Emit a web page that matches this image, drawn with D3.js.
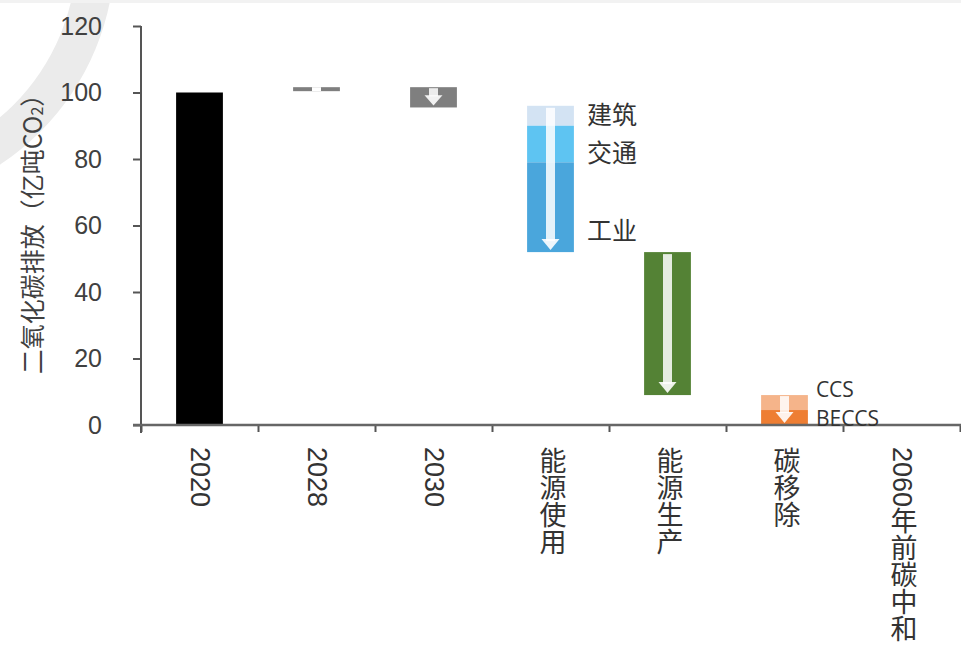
<!DOCTYPE html>
<html>
<head>
<meta charset="utf-8">
<script src="https://cdn.jsdelivr.net/npm/d3@7"></script>
<style>
  html, body { margin: 0; padding: 0; background: #fff; }
  svg { display: block; }
</style>
</head>
<body>
<script>
// Waterfall of China's CO2 emissions path to 2060 carbon neutrality (亿吨CO2)
const categories = ["2020", "2028", "2030", "能源使用", "能源生产", "碳移除", "2060年前碳中和"];

// Floating segments: each runs from segFrom to segTo within its category
const segCategory = ["2020", "2028", "2030", "能源使用", "能源使用", "能源使用", "能源生产", "碳移除", "碳移除"];
const segName     = ["2020", "2028", "2030", "建筑", "交通", "工业", "能源生产", "CCS", "BECCS"];
const segFrom     = [0, 100.4, 101.6, 96, 90, 79, 52, 9, 4.5];
const segTo       = [100, 101.6, 95.5, 90, 79, 52, 9, 4.5, 0];

const yTicks = [0, 20, 40, 60, 80, 100, 120];
const yTitle = "二氧化碳排放（亿吨CO";

// Segments that carry a side label
const sideLabels = ["建筑", "交通", "工业", "CCS", "BECCS"];

const W = 961, H = 647;
const segColor = {
  "2020": "#000000", "2028": "#7f7f7f", "2030": "#7f7f7f",
  "建筑": "#d3e3f3", "交通": "#5ec4f2", "工业": "#4aa6dc",
  "能源生产": "#548235", "CCS": "#f5b48a", "BECCS": "#ee7e33"
};
// value at which each side label is centred
const labelAnchor = { "建筑": 93.8, "交通": 82.5, "工业": 59, "CCS": 10.8, "BECCS": 2.1 };

const svg = d3.select("body").append("svg").attr("width", W).attr("height", H);

// faint background arc and top rule
svg.append("path")
  .attr("d", d3.arc()({ innerRadius: 218, outerRadius: 256, startAngle: 0, endAngle: Math.PI }))
  .attr("transform", "translate(-141,-49)")
  .attr("fill", "#ebebeb");
svg.append("rect").attr("x", 0).attr("y", 0).attr("width", W).attr("height", 3).attr("fill", "#f2f2f2");

const x = d3.scaleBand().domain(categories).range([141, 960]).paddingInner(0.6).paddingOuter(0.3);
const xEdge = d3.scaleLinear().domain([0, categories.length]).range([141, 960]);
const y = d3.scaleLinear().domain([0, 120]).range([425, 26]);

// bars
const segs = segName.map((n, i) => ({ name: n, cat: segCategory[i], from: segFrom[i], to: segTo[i] }));
svg.append("g").selectAll("rect").data(segs).join("rect")
  .attr("x", d => x(d.cat))
  .attr("width", x.bandwidth())
  .attr("y", d => y(Math.max(d.from, d.to)))
  .attr("height", d => Math.abs(y(d.from) - y(d.to)))
  .attr("fill", d => segColor[d.name]);

// white downward arrows through each change bar
const arrowCats = categories.filter(c => c !== "2020" && segCategory.includes(c));
const arrowG = svg.append("g");
arrowCats.forEach(c => {
  const idx = segCategory.map((s, i) => s === c ? i : -1).filter(i => i >= 0);
  const top = d3.max(idx, i => Math.max(segFrom[i], segTo[i]));
  const bot = d3.min(idx, i => Math.min(segFrom[i], segTo[i]));
  const cx = x(c) + x.bandwidth() / 2;
  const y0 = y(top), y1 = y(bot);
  const h = y1 - y0;
  const shaftW = 9, headW = 18, headL = Math.min(11, h * 0.5);
  if (h < 10) {
    arrowG.append("rect").attr("x", cx - shaftW / 2).attr("y", y0).attr("width", shaftW).attr("height", h).attr("fill", "#fff");
    return;
  }
  const tip = y1 - 2;
  arrowG.append("rect").attr("x", cx - shaftW / 2).attr("y", y0 + (h > 40 ? 2 : 1))
    .attr("width", shaftW).attr("height", tip - headL - y0).attr("fill", "#fff").attr("opacity", 0.85);
  arrowG.append("path")
    .attr("d", `M${cx - headW / 2},${tip - headL}L${cx + headW / 2},${tip - headL}L${cx},${tip}Z`)
    .attr("fill", "#fff").attr("opacity", 0.9);
});

// y axis
const yAxis = svg.append("g").attr("transform", "translate(141,0)")
  .call(d3.axisLeft(y).tickValues(yTicks).tickSize(8).tickPadding(31).tickSizeOuter(0));
yAxis.select(".domain").remove();
yAxis.append("line").attr("x1", 0).attr("x2", 0).attr("y1", y(120)).attr("y2", y(0) + 8)
  .attr("stroke", "#555").attr("stroke-width", 2);
yAxis.selectAll(".tick line").attr("stroke", "#555").attr("stroke-width", 2);
yAxis.selectAll(".tick text")
  .attr("fill", "#404040")
  .style("font-family", "'Liberation Sans', Arial, sans-serif")
  .style("font-size", "25px");

// x axis with ticks on category edges
const xAxis = svg.append("g").attr("transform", `translate(0,${y(0)})`)
  .call(d3.axisBottom(xEdge).tickValues(d3.range(categories.length + 1)).tickFormat("").tickSize(7).tickSizeOuter(0));
xAxis.select(".domain").remove();
xAxis.append("line").attr("x1", 133).attr("x2", W).attr("y1", 0).attr("y2", 0)
  .attr("stroke", "#666").attr("stroke-width", 2.5);
xAxis.selectAll(".tick line").attr("stroke", "#555").attr("stroke-width", 2);

// vertical category labels (latin runs turn sideways, CJK stays upright)
svg.append("g").attr("fill", "#333")
  .selectAll("text").data(categories).join("text")
  .attr("x", c => x(c) + x.bandwidth() / 2)
  .attr("y", 447)
  .style("writing-mode", "vertical-rl")
  .style("text-orientation", "mixed")
  .style("font-family", "'Liberation Sans', 'Noto Sans CJK SC', sans-serif")
  .style("font-size", "27px")
  .text(c => c);

// side labels next to the stacked segments
const sl = svg.append("g").attr("fill", "#333");
sideLabels.forEach(n => {
  const i = segName.indexOf(n);
  const isLatin = /^[\x00-\x7F]+$/.test(n);
  sl.append("text")
    .attr("x", x(segCategory[i]) + x.bandwidth() + (isLatin ? 8 : 13))
    .attr("y", y(labelAnchor[n]))
    .attr("dominant-baseline", "central")
    .style("font-family", isLatin ? "'Open Sans', sans-serif" : "'Noto Sans CJK SC', sans-serif")
    .style("font-size", isLatin ? "21px" : "25px")
    .text(n);
});

// y axis title
const yt = svg.append("text")
  .attr("transform", "translate(31,228) rotate(-90)")
  .attr("text-anchor", "middle").attr("dominant-baseline", "central")
  .attr("fill", "#404040")
  .style("font-family", "'Noto Sans CJK SC', sans-serif")
  .style("font-size", "25px");
yt.append("tspan").text(yTitle);
yt.append("tspan").attr("dy", 5).style("font-size", "16px").text("2");
yt.append("tspan").attr("dy", -5).text("）");
</script>
</body>
</html>
